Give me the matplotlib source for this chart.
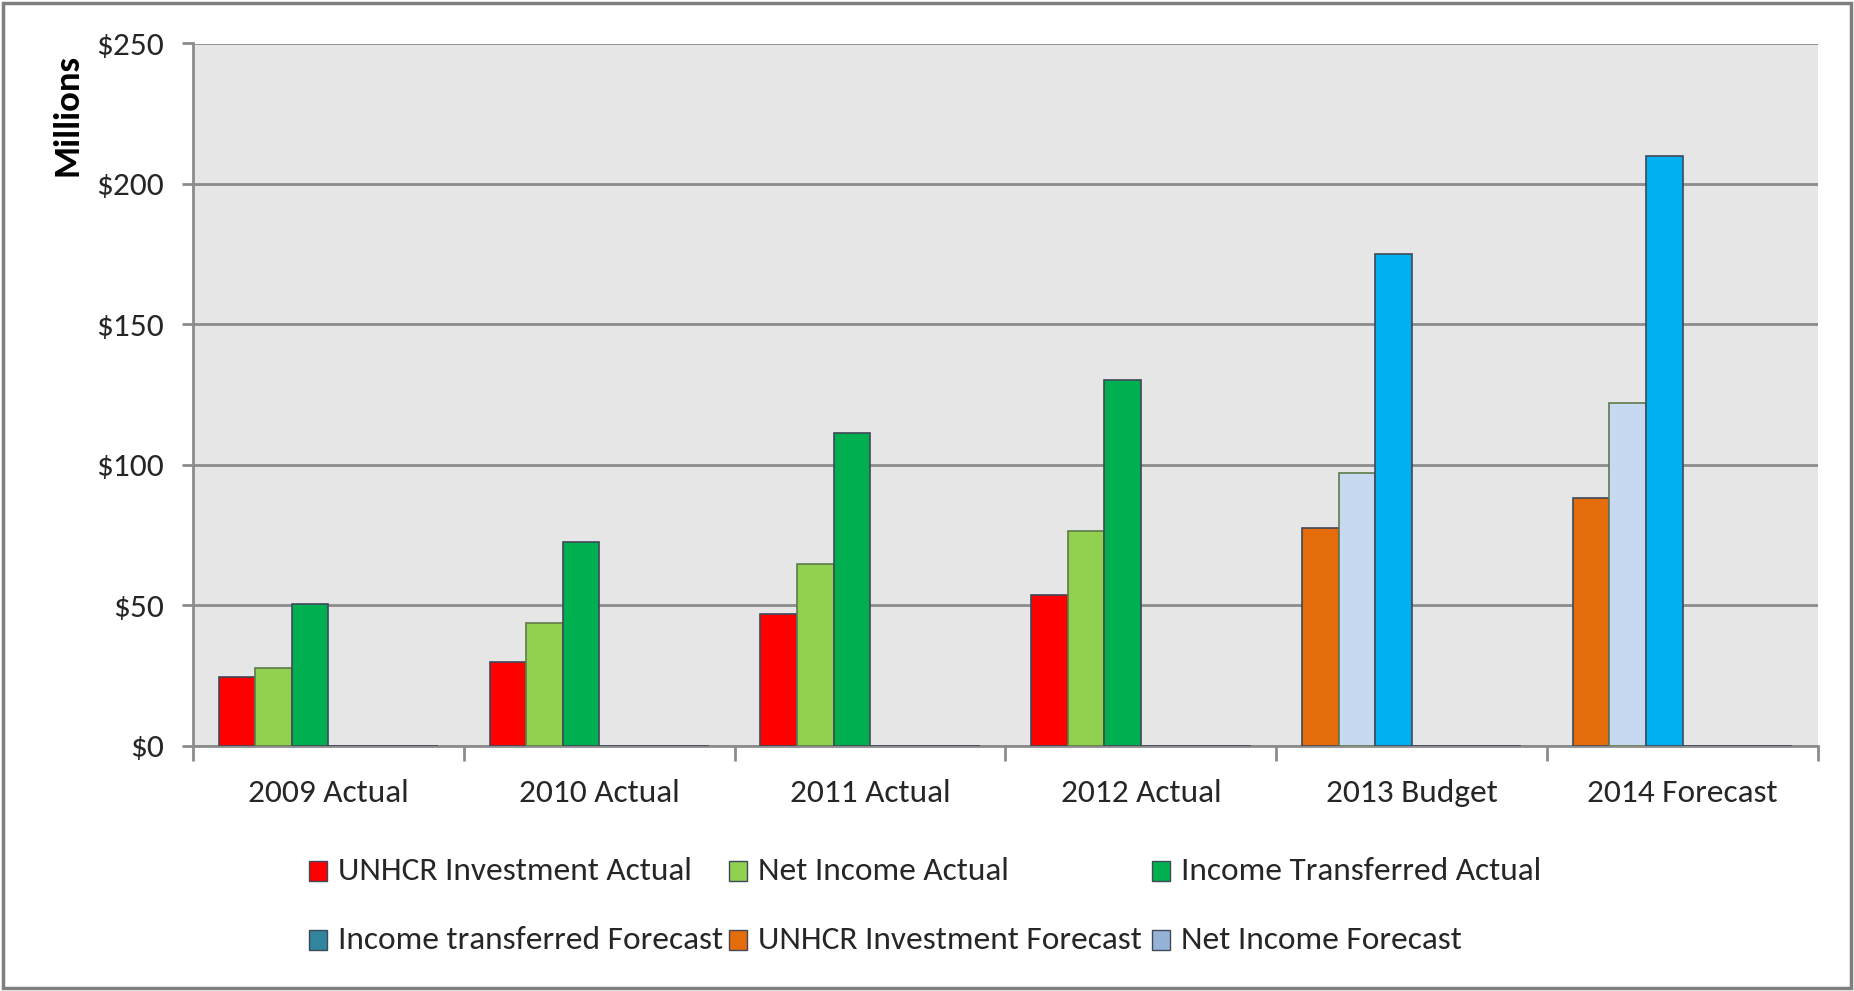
import matplotlib
matplotlib.use("Agg")
import matplotlib.pyplot as plt
from matplotlib.patches import Rectangle
import numpy as np

FONT = ['Carlito', 'Archivo Narrow', 'DejaVu Sans']
plt.rcParams['font.family'] = FONT

# data (USD millions)
categories = ['2009 Actual', '2010 Actual', '2011 Actual', '2012 Actual',
              '2013 Budget', '2014 Forecast']
investment = [24.3, 29.8, 46.8, 53.6, 77.5, 88.3]
net_income = [27.5, 43.5, 64.5, 76.4, 97.2, 121.8]
transferred = [50.4, 72.6, 111.4, 130.2, 175.0, 209.8]
# forecast series are empty in every category (forecast years reuse the first 3 slots)
transferred_fc = [0, 0, 0, 0, 0, 0]
investment_fc = [0, 0, 0, 0, 0, 0]
net_income_fc = [0, 0, 0, 0, 0, 0]
y_ticks = [0, 50, 100, 150, 200, 250]

# per-point fills: actual years vs forecast years
inv_cols = ['#FF0000'] * 4 + ['#E46C0A'] * 2
net_cols = ['#92D050'] * 4 + ['#C6D9F1'] * 2
tr_cols = ['#00B050'] * 4 + ['#00B0F0'] * 2

legend_labels = ['UNHCR Investment Actual', 'Net Income Actual', 'Income Transferred Actual',
                 'Income transferred Forecast', 'UNHCR Investment Forecast', 'Net Income Forecast']
legend_cols = ['#FF0000', '#92D050', '#00B050', '#31859C', '#E46C0A', '#95B3D7']

fig = plt.figure(figsize=(18.54, 9.91), dpi=100)
ax = fig.add_axes([193 / 1854, 1 - 745.5 / 991, (1818 - 193) / 1854, (745.5 - 43.5) / 991])
ax.set_facecolor('#E6E6E6')

x = np.arange(len(categories))
w = 0.135
series = [(investment, inv_cols, '#404858'), (net_income, net_cols, '#5E7A4A'),
          (transferred, tr_cols, '#404858'),
          (transferred_fc, legend_cols[3], '#404858'), (investment_fc, legend_cols[4], '#404858'),
          (net_income_fc, legend_cols[5], '#404858')]
for k, (vals, cols, ec) in enumerate(series):
    ax.bar(x + (k - 2.5) * w, vals, w, color=cols, edgecolor=ec, linewidth=1.2, zorder=3)

ax.set_xlim(-0.5, len(categories) - 0.5)
ax.set_ylim(0, 250)
ax.set_yticks(y_ticks)
ax.set_yticklabels([f'${v}' for v in y_ticks], fontsize=24, color='#262626')
ax.yaxis.grid(True, color='#8C8C8C', linewidth=2, zorder=1)
ax.set_axisbelow(True)

ax.set_xticks(x)
ax.set_xticklabels(categories, fontsize=24, color='#262626')
ax.set_xticks(np.arange(len(categories) + 1) - 0.5, minor=True)
ax.tick_params(axis='x', which='major', length=0, pad=24)
ax.tick_params(axis='x', which='minor', length=11, width=2, color='#8C8C8C')
ax.tick_params(axis='y', length=8, width=2, color='#8C8C8C', pad=13)

for s in ['top', 'right']:
    ax.spines[s].set_visible(False)
for s in ['left', 'bottom']:
    ax.spines[s].set_color('#8C8C8C')
    ax.spines[s].set_linewidth(2)

fig.text(67 / 1854, 1 - 115 / 991, 'Millions', rotation=90, fontsize=26.5,
         fontweight='bold', ha='center', va='center')

# legend laid out like the Excel grid
marker_x = [309, 729, 1152, 309, 729, 1152]
row_y = [871, 871, 871, 940, 940, 940]
for lab, col, mx, my in zip(legend_labels, legend_cols, marker_x, row_y):
    fig.add_artist(Rectangle((mx / 1854, 1 - (my + 10) / 991), 18 / 1854, 20 / 991,
                             transform=fig.transFigure, facecolor=col,
                             edgecolor='#404858', linewidth=1))
    fig.text((mx + 29) / 1854, 1 - my / 991, lab, fontsize=24, color='#262626',
             ha='left', va='center')

fig.add_artist(Rectangle((3 / 1854, 3 / 991), 1848 / 1854, 985 / 991,
                         transform=fig.transFigure, fill=False,
                         edgecolor='#7F7F7F', linewidth=2.5))

fig.savefig('out.png', dpi=100)
